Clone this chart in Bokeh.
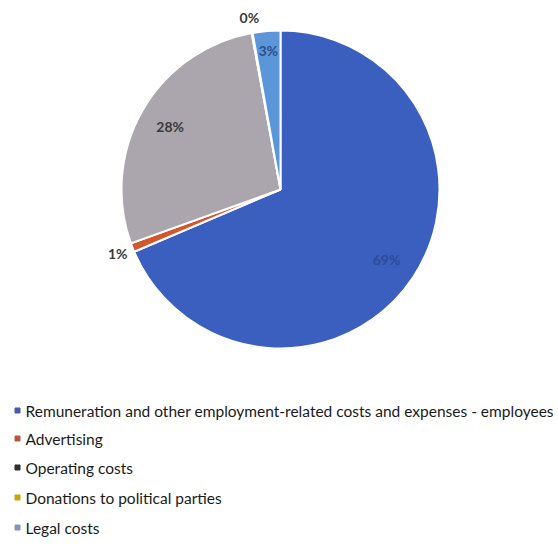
import numpy as np
from bokeh.plotting import figure
from bokeh.models import Range1d, ColumnDataSource
from bokeh.core.properties import value
from bokeh.embed import file_html
from bokeh.resources import INLINE

categories = ["Remuneration and other employment-related costs and expenses - employees",
              "Advertising", "Operating costs", "Donations to political parties", "Legal costs"]
shares = [68.6, 0.9, 27.6, 0.1, 2.8]
labels = ["69%", "1%", "28%", "0%", "3%"]
slice_colors = ["#3a5fbe", "#d0582a", "#aba6ae", "#c9a000", "#5b97d8"]
legend_colors = ["#4a5aa6", "#b8583f", "#2f2f2f", "#c9a400", "#7f95bd"]
label_colors = ["#2f4a9a", "#3a3a3a", "#3a3a3a", "#3a3a3a", "#2d4f8f"]
label_radius = [0.8, 1.1, 0.8, 1.1, 0.88]

W, H = 558, 547
p = figure(width=W, height=H, output_backend="svg", toolbar_location=None,
           x_range=Range1d(0, W), y_range=Range1d(0, H), min_border=0)
p.axis.visible = False
p.grid.visible = False
p.outline_line_color = None

cx, cy, r = 280, H - 189, 159
frac = np.array(shares) / sum(shares)
cum = np.concatenate([[0], np.cumsum(frac)])
start = np.pi / 2 - cum[1:] * 2 * np.pi
end = np.pi / 2 - cum[:-1] * 2 * np.pi
src = ColumnDataSource(dict(start=start, end=end, color=slice_colors))
p.wedge(x=cx, y=cy, radius=r, start_angle="start", end_angle="end",
        fill_color="color", line_color="white", line_width=2, source=src)

mid = (start + end) / 2
rr = np.array(label_radius) * r
lsrc = ColumnDataSource(dict(x=cx + rr * np.cos(mid), y=cy + rr * np.sin(mid),
                             t=labels, c=label_colors))
p.text(x="x", y="y", text="t", text_color="c", source=lsrc,
       text_align="center", text_baseline="middle",
       text_font=value("Lato"), text_font_size="14px",
       text_font_style="bold")

ly = H - np.array([410, 438, 467, 497, 527])
p.scatter(x=[17] * 5, y=ly, marker="square", size=5, color=legend_colors)
p.text(x=[25] * 5, y=ly, text=categories, text_baseline="middle",
       text_font=value("Lato"), text_font_size="15.5px",
       text_color="#1a1a1a")

open("out.html", "w").write(file_html(p, INLINE))
